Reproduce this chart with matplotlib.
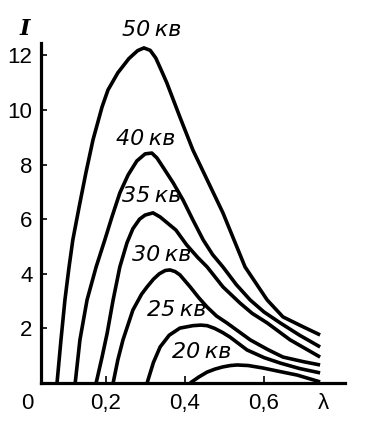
import numpy as np
import matplotlib
matplotlib.use("Agg")
import matplotlib.pyplot as plt

# --- Data (wavelength, intensity) ---
lam_50 = [0.076, 0.086, 0.096, 0.106, 0.116, 0.132, 0.149, 0.167, 0.190, 0.205, 0.230, 0.258,
          0.280, 0.296, 0.312, 0.326, 0.340, 0.354, 0.387, 0.420, 0.456, 0.496, 0.524, 0.552,
          0.608, 0.648, 0.700, 0.742]
int_50 = [0.0, 1.58, 3.04, 4.20, 5.24, 6.45, 7.69, 8.90, 10.11, 10.73, 11.36, 11.88,
          12.17, 12.27, 12.18, 11.90, 11.45, 10.99, 9.74, 8.53, 7.44, 6.23, 5.24, 4.25,
          3.04, 2.42, 2.05, 1.76]

lam_40 = [0.122, 0.134, 0.152, 0.175, 0.197, 0.215, 0.235, 0.256, 0.278, 0.299, 0.316, 0.329,
          0.344, 0.370, 0.395, 0.420, 0.446, 0.470, 0.496, 0.530, 0.565, 0.600, 0.641, 0.690,
          0.742]
int_40 = [0.0, 1.58, 3.04, 4.25, 5.24, 6.08, 6.96, 7.62, 8.13, 8.39, 8.42, 8.24,
          7.91, 7.33, 6.70, 5.97, 5.24, 4.70, 4.25, 3.60, 3.04, 2.60, 2.20, 1.75,
          1.32]

lam_35 = [0.175, 0.190, 0.203, 0.218, 0.235, 0.253, 0.268, 0.285, 0.299, 0.319, 0.337, 0.377,
          0.404, 0.432, 0.456, 0.496, 0.539, 0.570, 0.608, 0.666, 0.742]
int_35 = [0.0, 0.95, 1.83, 3.04, 4.25, 5.13, 5.65, 6.00, 6.15, 6.23, 6.08, 5.60,
          5.06, 4.60, 4.25, 3.52, 2.93, 2.55, 2.20, 1.58, 0.95]

lam_30 = [0.218, 0.230, 0.243, 0.268, 0.290, 0.304, 0.320, 0.335, 0.350, 0.362, 0.375, 0.387,
          0.413, 0.435, 0.456, 0.480, 0.506, 0.565, 0.610, 0.648, 0.700, 0.742]
int_30 = [0.0, 0.85, 1.58, 2.67, 3.25, 3.52, 3.80, 4.00, 4.12, 4.14, 4.08, 3.96,
          3.52, 3.12, 2.78, 2.45, 2.20, 1.58, 1.22, 0.95, 0.78, 0.66]

lam_25 = [0.304, 0.320, 0.337, 0.360, 0.387, 0.420, 0.440, 0.456, 0.475, 0.495, 0.514, 0.557,
          0.600, 0.641, 0.690, 0.742]
int_25 = [0.0, 0.75, 1.32, 1.75, 2.01, 2.10, 2.12, 2.10, 2.00, 1.85, 1.68, 1.21,
          0.93, 0.73, 0.53, 0.37]

lam_20 = [0.413, 0.435, 0.456, 0.476, 0.496, 0.515, 0.532, 0.560, 0.597, 0.640, 0.684, 0.742]
int_20 = [0.0, 0.22, 0.40, 0.51, 0.59, 0.64, 0.66, 0.64, 0.55, 0.42, 0.29, 0.04]

series = [(lam_50, int_50), (lam_40, int_40), (lam_35, int_35),
          (lam_30, int_30), (lam_25, int_25), (lam_20, int_20)]

curve_labels = ["50\u2009кв", "40\u2009кв", "35\u2009кв", "30\u2009кв", "25\u2009кв", "20\u2009кв"]
label_x = [0.316, 0.301, 0.316, 0.342, 0.380, 0.443]
label_y = [12.93, 8.94, 6.85, 4.70, 2.67, 1.14]

x_ticks = [0, 0.2, 0.4, 0.6, 0.75]
x_tick_labels = ["0", "0,2", "0,4", "0,6", "λ"]
y_ticks = [2, 4, 6, 8, 10, 12]
y_tick_labels = ["2", "4", "6", "8", "10", "12"]

# --- Figure ---
tick_font = ["Liberation Sans", "DejaVu Sans"]

fig = plt.figure(figsize=(3.78, 4.23), dpi=100)
ax = fig.add_axes([27 / 378, 40 / 423, 318 / 378, 340 / 423])

for lam, inten in series:
    ax.plot(lam, inten, color="black", lw=2.6, solid_joinstyle="round",
            solid_capstyle="butt", clip_on=False)

for txt, lx, ly in zip(curve_labels, label_x, label_y):
    ax.text(lx, ly, txt, ha="center", va="center", fontsize=16, style="italic",
            family="DejaVu Sans", color="black")

ax.set_xlim(0, 0.805)
ax.set_ylim(0, 12.45)

for s in ["top", "right"]:
    ax.spines[s].set_visible(False)
ax.spines["left"].set_position(("data", 0.035))
ax.spines["left"].set_linewidth(2.3)
ax.spines["bottom"].set_linewidth(2.3)
ax.spines["bottom"].set_bounds(0.035, 0.805)

ax.set_xticks(x_ticks)
ax.set_xticklabels(x_tick_labels, family=tick_font, fontsize=16)
ax.set_yticks(y_ticks)
ax.set_yticklabels(y_tick_labels, family=tick_font, fontsize=16)
ax.tick_params(axis="x", direction="in", length=5, width=1.2, pad=7)
ax.tick_params(axis="y", direction="in", length=4, width=1.2, pad=6)
xt = ax.xaxis.get_major_ticks()
xt[0].tick1line.set_visible(False)
xt[-1].tick1line.set_visible(False)

# axis name "I"
fig.text(25 / 378, 1 - 29 / 423, "I", ha="center", va="center", fontsize=16,
         style="italic", weight="bold", family="DejaVu Serif")

fig.savefig("out.png", dpi=100)
